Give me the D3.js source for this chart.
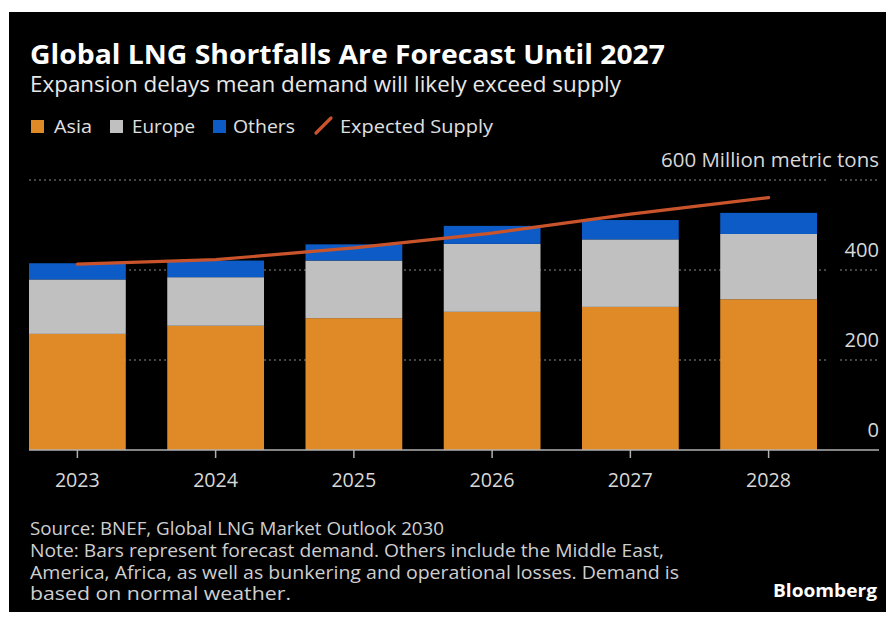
<!DOCTYPE html>
<html>
<head>
<meta charset="utf-8">
<script src="https://cdn.jsdelivr.net/npm/d3@7"></script>
<style>
  html, body { margin: 0; padding: 0; background: #ffffff; }
  svg { display: block; }
</style>
</head>
<body>
<svg id="chart" width="896" height="625"></svg>
<script>
// ---- Data ----
const years = ["2023", "2024", "2025", "2026", "2027", "2028"];
const asia = [258, 276, 293, 307, 318, 335];
const europe = [121, 108, 128, 151, 150, 145];
const others = [36, 37, 36, 40, 43, 47];
const expectedSupply = [413, 423, 449, 482, 524, 561];
const yTicks = [0, 200, 400, 600];
const seriesNames = ["Asia", "Europe", "Others"];

const title = "Global LNG Shortfalls Are Forecast Until 2027";
const subtitle = "Expansion delays mean demand will likely exceed supply";
const footLines = [
  "Source: BNEF, Global LNG Market Outlook 2030",
  "Note: Bars represent forecast demand. Others include the Middle East,",
  "America, Africa, as well as bunkering and operational losses. Demand is",
  "based on normal weather."
];

// ---- Styles ----
const colors = { Asia: "#e08a27", Europe: "#c0c0c0", Others: "#0d5bc6" };
const lineColor = "#c9542c";
const font = "'Open Sans', 'DejaVu Sans', sans-serif";

const svg = d3.select("#chart");

function fit(sel, w) {
  sel.attr("textLength", w).attr("lengthAdjust", "spacingAndGlyphs");
  return sel;
}

// background panel
svg.append("rect").attr("x", 9).attr("y", 12).attr("width", 877).attr("height", 600).attr("fill", "#000");

// Scales
const x = d3.scaleBand().domain(years).range([29, 817]).paddingInner(0.3).paddingOuter(0);
const y = d3.scaleLinear().domain([0, 600]).range([450, 180]);

// gridlines (dotted, with gap near labels)
const grid = svg.append("g");
yTicks.filter(v => v > 0).forEach(v => {
  grid.append("line").attr("x1", 29).attr("x2", 827).attr("y1", y(v)).attr("y2", y(v))
    .attr("stroke", "#8a8a8a").attr("stroke-width", 1.2).attr("stroke-dasharray", "2,3");
  grid.append("line").attr("x1", 840).attr("x2", 879).attr("y1", y(v)).attr("y2", y(v))
    .attr("stroke", "#8a8a8a").attr("stroke-width", 1.2).attr("stroke-dasharray", "2,3");
});

// stacked bars
const rows = years.map((yr, i) => ({ year: yr, Asia: asia[i], Europe: europe[i], Others: others[i] }));
const stack = d3.stack().keys(seriesNames)(rows);
svg.append("g").selectAll("g").data(stack).join("g")
  .attr("fill", d => colors[d.key])
  .selectAll("rect").data(d => d).join("rect")
  .attr("x", d => x(d.data.year))
  .attr("width", x.bandwidth())
  .attr("y", d => y(d[1]))
  .attr("height", d => y(d[0]) - y(d[1]));

// baseline
svg.append("line").attr("x1", 29).attr("x2", 879).attr("y1", y(0)).attr("y2", y(0))
  .attr("stroke", "#b0b0b0").attr("stroke-width", 1.5);

// x ticks & labels
const xa = svg.append("g");
years.forEach(yr => {
  const cx = x(yr) + x.bandwidth() / 2;
  xa.append("line").attr("x1", cx).attr("x2", cx).attr("y1", y(0)).attr("y2", y(0) + 8)
    .attr("stroke", "#b0b0b0").attr("stroke-width", 1.5);
  fit(xa.append("text").attr("x", cx).attr("y", 487).attr("text-anchor", "middle")
    .attr("fill", "#d8d8d8").attr("font-family", font).attr("font-size", 20).text(yr), 45);
});

// y labels
yTicks.forEach(v => {
  const lbl = v === 600 ? "600 Million metric tons" : String(v);
  const t = svg.append("text").attr("x", 879).attr("y", y(v) - 13).attr("text-anchor", "end")
    .attr("fill", "#d8d8d8").attr("font-family", font).attr("font-size", 20).text(lbl);
  fit(t, v === 600 ? 218 : lbl.length * 11.5);
});

// expected supply line
const line = d3.line().x((d, i) => x(years[i]) + x.bandwidth() / 2).y(d => y(d));
svg.append("path").datum(expectedSupply).attr("d", line)
  .attr("fill", "none").attr("stroke", lineColor).attr("stroke-width", 3.2).attr("stroke-linecap", "round");

// title & subtitle
fit(svg.append("text").attr("x", 30).attr("y", 64).attr("fill", "#ffffff").attr("font-family", font)
  .attr("font-weight", 700).attr("font-size", 26).text(title), 635);
fit(svg.append("text").attr("x", 30).attr("y", 92).attr("fill", "#e8e8e8").attr("font-family", font)
  .attr("font-size", 21).text(subtitle), 591);

// legend
const legendItems = [
  { name: "Asia", sx: 31, tx: 54, tw: 38 },
  { name: "Europe", sx: 110, tx: 132, tw: 63 },
  { name: "Others", sx: 213, tx: 233, tw: 62 }
];
const lg = svg.append("g");
legendItems.forEach(it => {
  lg.append("rect").attr("x", it.sx).attr("y", 120).attr("width", 13).attr("height", 13).attr("fill", colors[it.name]);
  fit(lg.append("text").attr("x", it.tx).attr("y", 133).attr("fill", "#e0e0e0").attr("font-family", font)
    .attr("font-size", 19).text(it.name), it.tw);
});
lg.append("line").attr("x1", 316).attr("y1", 133).attr("x2", 331).attr("y2", 118)
  .attr("stroke", lineColor).attr("stroke-width", 3.2).attr("stroke-linecap", "round");
fit(lg.append("text").attr("x", 340).attr("y", 133).attr("fill", "#e0e0e0").attr("font-family", font)
  .attr("font-size", 19).text("Expected Supply"), 153);

// footnotes
const footW = [414, 634, 649, 261];
footLines.forEach((t, i) => {
  fit(svg.append("text").attr("x", 30).attr("y", 535 + i * 21.8).attr("fill", "#cfcfcf")
    .attr("font-family", font).attr("font-size", 17.5).text(t), footW[i]);
});

// Bloomberg
fit(svg.append("text").attr("x", 877).attr("y", 597).attr("text-anchor", "end").attr("fill", "#ffffff")
  .attr("font-family", font).attr("font-weight", 700).attr("font-size", 18).text("Bloomberg"), 104);
</script>
</body>
</html>
